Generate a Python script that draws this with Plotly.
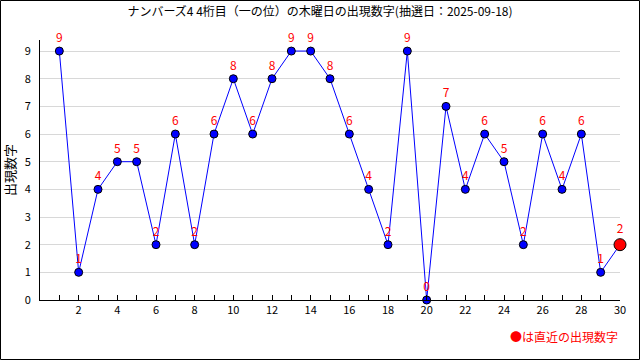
import plotly.graph_objects as go

draws = list(range(1, 31))
values = [9, 1, 4, 5, 5, 2, 6, 2, 6, 8, 6, 8, 9, 9, 8, 6, 4, 2, 9, 0, 7, 4, 6, 5, 2, 6, 4, 6, 1, 2]
x_tick_vals = list(range(1, 31))
x_tick_text = [str(v) if v % 2 == 0 else "" for v in x_tick_vals]
y_tick_vals = list(range(0, 10))

title = "ナンバーズ4 4桁目（一の位）の木曜日の出現数字(抽選日：2025-09-18)"
font = "Noto Sans CJK JP"

colors = ["#0000ff"] * (len(values) - 1) + ["#ff0000"]
sizes = [8] * (len(values) - 1) + [12]

W, H = 640, 360
L, R, T, B = 40, 20, 40, 60
pw, ph = W - L - R, H - T - B

fig = go.Figure()
fig.add_trace(go.Scatter(
    x=draws, y=values, mode="lines+markers+text",
    line=dict(color="#0000ff", width=1),
    marker=dict(color=colors, size=sizes, opacity=1, line=dict(color="#000000", width=1)),
    text=[str(v) for v in values], textposition="top center",
    textfont=dict(color="#ff0000", size=12, family=font),
    cliponaxis=False, hoverinfo="skip",
))

fig.update_layout(
    width=W, height=H,
    margin=dict(l=L, r=R, t=T, b=B),
    paper_bgcolor="white", plot_bgcolor="white",
    showlegend=False,
    font=dict(family=font, size=11, color="#000000"),
    title=dict(text=title, x=0.5, xanchor="center", y=1 - 12 / H, yanchor="middle",
               font=dict(size=12, family=font, color="#000000")),
    xaxis=dict(range=[0, 30], tickvals=x_tick_vals, ticktext=x_tick_text,
               ticks="inside", ticklen=5, tickcolor="#000000",
               showline=True, linecolor="#000000", linewidth=1,
               showgrid=False, zeroline=False, fixedrange=True, automargin=False,
               tickfont=dict(size=11)),
    yaxis=dict(range=[0, 9.4], tickvals=y_tick_vals,
               showline=True, linecolor="#000000", linewidth=1,
               showgrid=True, gridcolor="#d8d8d8", zeroline=False,
               ticks="", ticklabelstandoff=6, automargin=False, fixedrange=True,
               title=dict(text="出現数字", font=dict(size=13, family=font), standoff=9),
               tickfont=dict(size=11)),
    shapes=[dict(type="rect", xref="paper", yref="paper",
                 x0=-(L - 0.5) / pw, x1=1 + (R - 0.5) / pw,
                 y0=-(B - 0.5) / ph, y1=1 + (T - 0.5) / ph,
                 line=dict(color="#000000", width=1))],
    annotations=[dict(text="●は直近の出現数字", xref="paper", yref="paper",
                      x=1.0, y=-36 / ph, xanchor="right", yanchor="middle", showarrow=False,
                      font=dict(color="#ff0000", size=12, family=font))],
)

fig.write_html("out.html", config={"displayModeBar": False},
               post_script="document.body.style.margin='0';")
